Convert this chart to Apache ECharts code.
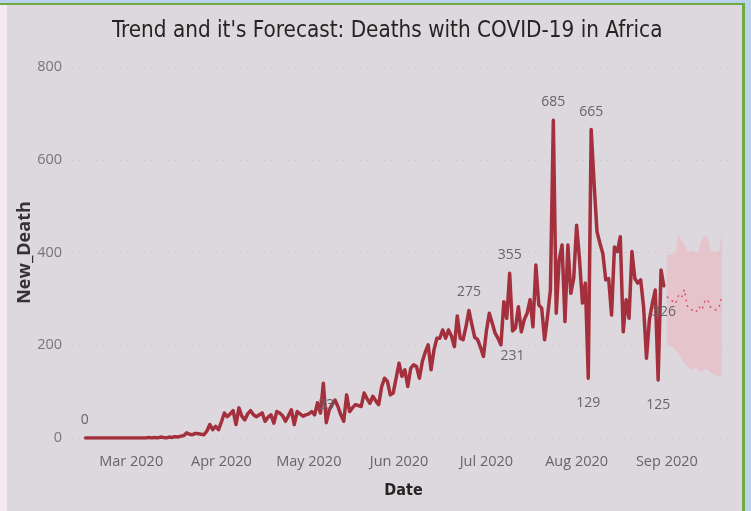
<!DOCTYPE html>
<html>
<head>
<meta charset="utf-8">
<script src="https://cdn.jsdelivr.net/npm/echarts@6/dist/echarts.min.js"></script>
<style>
  html, body { margin: 0; padding: 0; width: 751px; height: 511px; overflow: hidden; background: #f5eaf4; }
  #topblue { position: absolute; left: 0; top: 0; width: 751px; height: 3px; background: #b9d3ec; }
  #topgreen { position: absolute; left: 0; top: 3px; width: 745px; height: 2px; background: #74a845; }
  #rightgreen { position: absolute; left: 742px; top: 3px; width: 3px; height: 508px; background: #74a845; }
  #rightblue { position: absolute; left: 745px; top: 0; width: 6px; height: 511px; background: #b9d3ec; }
  #panel { position: absolute; left: 7px; top: 5px; width: 735px; height: 506px; background: #dcd8dd; }
  #chart { position: absolute; left: 0; top: 0; width: 751px; height: 511px; }
</style>
</head>
<body>
<div id="topblue"></div>
<div id="panel"></div>
<div id="topgreen"></div>
<div id="rightgreen"></div>
<div id="rightblue"></div>
<div id="chart"></div>
<script>
// ---- data ----
const START_DATE = '2020-02-10';   // first category on the axis
const AXIS_DAYS = 226;             // Feb 10 .. Sep 22
const MONTHS = ['Jan','Feb','Mar','Apr','May','Jun','Jul','Aug','Sep','Oct','Nov','Dec'];

// daily new deaths, starting at START_DATE (null = before first report)
const newDeaths = [
  null,null,null,null,
  0,0,0,0,0,0,0,0,0,0,0,0,0,0,0,0,0,0,0,0,0,
  0,1,0,1,0,2,1,0,2,1,
  3,2,4,5,11,8,7,10,9,8,
  7,15,29,18,25,18,35,54,46,52,
  59,29,65,47,39,52,59,50,46,50,
  54,36,45,50,32,57,54,48,36,48,
  61,29,57,52,47,50,52,57,50,76,
  54,118,33,60,72,82,68,50,36,93,
  57,65,72,70,68,97,85,75,90,80,
  72,110,129,122,93,97,129,161,133,147,
  111,150,158,154,129,165,185,201,147,190,
  215,215,233,215,233,220,197,263,215,212,
  240,275,245,217,212,195,176,230,269,248,
  226,215,201,294,258,355,231,237,283,229,
  255,269,298,240,373,287,280,212,262,319,
  685,269,384,416,251,416,312,344,459,384,
  291,334,129,665,549,445,420,398,341,344,
  265,412,402,434,229,298,258,402,344,334,
  341,283,172,255,290,319,125,362,326
];

// forecast, Sep 1 .. Sep 20
const FORECAST_START = '2020-09-01';
const forecast = [305,300,295,290,307,302,320,285,278,275,271,283,276,294,299,282,278,276,285,308];
const forecastUpper = [395,395,396,400,441,425,420,402,402,405,400,404,430,437,434,404,402,402,404,447];
const forecastLower = [200,198,196,190,183,170,160,155,150,148,152,145,140,150,148,142,138,135,132,135];

const yTicks = { min: 0, max: 800, interval: 200 };

const labelsAbove = ['2020-02-14','2020-05-07','2020-06-25','2020-07-09','2020-07-24','2020-08-06'];
const labelsBelow = ['2020-07-10','2020-08-05','2020-08-29','2020-08-31'];

// ---- build ----
const dates = [];
{
  const t0 = Date.parse(START_DATE + 'T00:00:00Z');
  for (let i = 0; i < AXIS_DAYS; i++) dates.push(new Date(t0 + i * 86400000).toISOString().slice(0, 10));
}
const padTo = (arr, offset) => {
  const out = new Array(dates.length).fill(null);
  arr.forEach((v, i) => { out[offset + i] = v; });
  return out;
};
const fcOffset = dates.indexOf(FORECAST_START);

const lblStyle = { show: true, color: '#666666', fontFamily: 'Open Sans', fontSize: 14 };
const actualData = padTo(newDeaths, 0).map((v, i) => {
  if (labelsAbove.includes(dates[i])) return { value: v, label: Object.assign({ position: 'top', distance: 10 }, lblStyle) };
  if (labelsBelow.includes(dates[i])) return { value: v, label: Object.assign({ position: 'bottom', distance: 17 }, lblStyle) };
  return v;
});
const lowerFull = padTo(forecastLower, fcOffset);
const rangeFull = padTo(forecastUpper.map((u, i) => u - forecastLower[i]), fcOffset);
const fcFull = padTo(forecast, fcOffset);

const chart = echarts.init(document.getElementById('chart'), null, { renderer: 'canvas' });
chart.setOption({
  backgroundColor: 'transparent',
  animation: false,
  title: {
    text: "Trend and it's Forecast: Deaths with COVID-19 in Africa",
    left: 107, top: 15,
    textStyle: { fontFamily: 'DejaVu Sans Condensed, sans-serif', fontSize: 22.3, fontWeight: 'normal', color: '#252423' }
  },
  grid: { left: 73, right: 23, top: 67, bottom: 73 },
  xAxis: {
    type: 'category', data: dates, boundaryGap: false,
    axisLine: { show: false }, axisTick: { show: false },
    axisLabel: {
      interval: (idx, val) => val.slice(8) === '01',
      formatter: val => MONTHS[+val.slice(5, 7) - 1] + ' ' + val.slice(0, 4),
      color: '#666666', fontFamily: 'Open Sans', fontSize: 14.5, margin: 16
    },
    name: 'Date', nameLocation: 'middle', nameGap: 45, nameMoveOverlap: false,
    nameTextStyle: { fontFamily: 'DejaVu Sans Condensed, sans-serif', fontSize: 16, fontWeight: 'bold', color: '#252423', padding: [0, 0, 0, 6] }
  },
  yAxis: {
    type: 'value', min: yTicks.min, max: yTicks.max, interval: yTicks.interval,
    axisLine: { show: false }, axisTick: { show: false },
    axisLabel: { color: '#777777', fontFamily: 'Open Sans', fontSize: 14.5, margin: 11 },
    splitLine: { lineStyle: { color: '#c4c0c6', type: [1, 5], width: 1 } },
    name: 'New_Death', nameLocation: 'middle', nameGap: 39, nameRotate: 90, nameMoveOverlap: false,
    nameTextStyle: { fontFamily: 'Open Sans', fontSize: 18, fontWeight: 'bold', color: '#333333' }
  },
  series: [
    {
      name: 'lower', type: 'line', stack: 'band', data: lowerFull, symbol: 'none', silent: true,
      lineStyle: { opacity: 0 }
    },
    {
      name: 'band', type: 'line', stack: 'band', data: rangeFull, symbol: 'none', silent: true,
      lineStyle: { opacity: 0 }, areaStyle: { color: '#e6c4cb', opacity: 1 }
    },
    {
      name: 'forecast', type: 'line', data: fcFull, symbol: 'none',
      lineStyle: { color: '#d9566c', width: 1.5, type: [2, 4] }
    },
    {
      name: 'New_Death', type: 'line', data: actualData,
      symbol: 'circle', symbolSize: 2, showSymbol: true, showAllSymbol: true,
      lineStyle: { color: '#a4303d', width: 3.5, join: 'round' }, itemStyle: { color: '#a4303d' }
    }
  ]
});
</script>
</body>
</html>
